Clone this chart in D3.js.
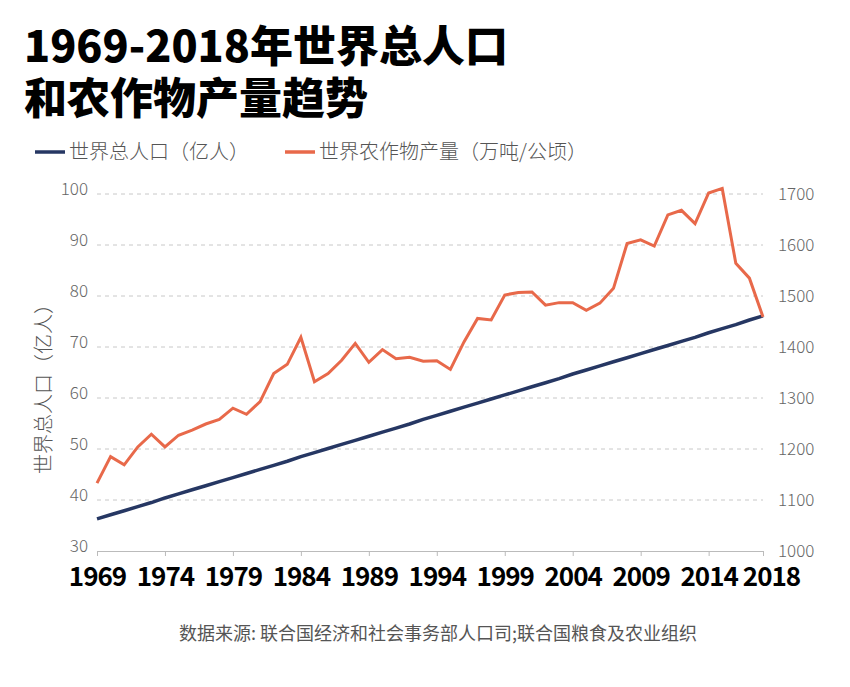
<!DOCTYPE html>
<html>
<head>
<meta charset="utf-8">
<script src="https://cdn.jsdelivr.net/npm/d3@7"></script>
<style>
  html, body { margin: 0; padding: 0; background: #fff; }
  svg { display: block; font-family: "Noto Sans CJK SC", "Noto Sans", sans-serif; }
</style>
</head>
<body>
<svg id="chart" width="850" height="687"></svg>
<script>
const years = d3.range(1969, 2019);
const xTickYears = [1969, 1974, 1979, 1984, 1989, 1994, 1999, 2004, 2009, 2014, 2018];
const leftTicks = [30, 40, 50, 60, 70, 80, 90, 100];
const rightTicks = [1000, 1100, 1200, 1300, 1400, 1500, 1600, 1700];

// 世界总人口 (亿人)
const population = [
  36.3, 37.1, 37.9, 38.7, 39.5, 40.4, 41.2, 42.0, 42.8, 43.6,
  44.4, 45.2, 46.0, 46.8, 47.6, 48.5, 49.3, 50.1, 50.9, 51.7,
  52.5, 53.3, 54.1, 54.9, 55.8, 56.6, 57.4, 58.2, 59.0, 59.8,
  60.6, 61.4, 62.2, 63.0, 63.8, 64.7, 65.5, 66.3, 67.1, 67.9,
  68.7, 69.5, 70.3, 71.1, 71.9, 72.8, 73.6, 74.4, 75.3, 76.1
];
// 世界农作物产量 (万吨/公顷)
const cropYield = [
  1133, 1185, 1169, 1204, 1229, 1204, 1227, 1237, 1249, 1258,
  1280, 1268, 1293, 1348, 1366, 1419, 1332, 1348, 1374, 1407,
  1370, 1395, 1377, 1380, 1372, 1373, 1356, 1410, 1456, 1453,
  1502, 1507, 1508, 1482, 1487, 1487, 1472, 1486, 1515, 1603,
  1610, 1598, 1659, 1668, 1642, 1702, 1711, 1564, 1535, 1459
];

const svg = d3.select("#chart");

const x = d3.scaleLinear().domain([1969, 2018]).range([97, 763]);
const yL = d3.scaleLinear().domain([30, 100]).range([551, 194]);
const yR = d3.scaleLinear().domain([1000, 1700]).range([551, 194]);

// Title
svg.append("text")
  .attr("x", 24).attr("y", 62)
  .attr("font-size", 43).attr("font-weight", 900).attr("fill", "#000")
  .text("1969-2018年世界总人口");
svg.append("text")
  .attr("x", 24).attr("y", 114)
  .attr("font-size", 43).attr("font-weight", 900).attr("fill", "#000")
  .text("和农作物产量趋势");

// Legend
const legend = [
  {label: "世界总人口（亿人）", color: "#263763", x0: 35},
  {label: "世界农作物产量（万吨/公顷）", color: "#E8694A", x0: 285}
];
legend.forEach(d => {
  svg.append("line")
    .attr("x1", d.x0).attr("x2", d.x0 + 30)
    .attr("y1", 152).attr("y2", 152)
    .attr("stroke", d.color).attr("stroke-width", 3.5);
  svg.append("text")
    .attr("x", d.x0 + 34).attr("y", 159)
    .attr("font-size", 20).attr("font-weight", 300).attr("fill", "#555")
    .text(d.label);
});

// Gridlines
svg.append("g").selectAll("line")
  .data(leftTicks.slice(1))
  .join("line")
  .attr("x1", 97).attr("x2", 763)
  .attr("y1", d => yL(d)).attr("y2", d => yL(d))
  .attr("stroke", "#c8c8c8").attr("stroke-width", 1)
  .attr("stroke-dasharray", "4,4");

// Left axis labels
const leftAxis = d3.axisLeft(yL).tickValues(leftTicks).tickSize(0).tickPadding(0);
const gL = svg.append("g").attr("transform", "translate(88,-5)").call(leftAxis);
gL.select(".domain").remove();
gL.selectAll("text")
  .attr("font-size", 17).attr("font-family", "'Noto Sans CJK SC', sans-serif")
  .attr("font-weight", 300).attr("fill", "#666");

// Right axis labels
const rightAxis = d3.axisRight(yR).tickValues(rightTicks).tickFormat(d3.format("d"))
  .tickSize(0).tickPadding(0);
const gR = svg.append("g").attr("transform", "translate(778,0)").call(rightAxis);
gR.select(".domain").remove();
gR.selectAll("text")
  .attr("font-size", 17).attr("font-family", "'Noto Sans CJK SC', sans-serif")
  .attr("font-weight", 300).attr("fill", "#666");

// Bottom axis
const bottomAxis = d3.axisBottom(x).tickValues(xTickYears).tickFormat(d3.format("d"))
  .tickSize(5).tickSizeOuter(0).tickPadding(5);
const gB = svg.append("g").attr("transform", "translate(0,551)").call(bottomAxis);
gB.select(".domain").attr("stroke", "#bbb");
gB.selectAll(".tick line").attr("stroke", "#bbb");
gB.selectAll("text")
  .attr("font-size", 26).attr("font-weight", 700)
  .attr("font-family", "'Noto Sans CJK SC', sans-serif")
  .attr("letter-spacing", "-1px")
  .attr("fill", "#000").attr("dy", "0.95em")
  .attr("x", d => d === 2018 ? 8 : 0);

// Left axis title
svg.append("text")
  .attr("transform", "translate(51,384) rotate(-90)")
  .attr("text-anchor", "middle")
  .attr("font-size", 20).attr("font-weight", 300).attr("fill", "#555")
  .text("世界总人口（亿人）");

// Lines
const popLine = d3.line().x((d, i) => x(years[i])).y(d => yL(d));
const cropLine = d3.line().x((d, i) => x(years[i])).y(d => yR(d));

svg.append("path").datum(population)
  .attr("d", popLine).attr("fill", "none")
  .attr("stroke", "#263763").attr("stroke-width", 3.5)
  .attr("stroke-linejoin", "round");

svg.append("path").datum(cropYield)
  .attr("d", cropLine).attr("fill", "none")
  .attr("stroke", "#E8694A").attr("stroke-width", 3)
  .attr("stroke-linejoin", "miter");

// Source
svg.append("text")
  .attr("x", 438).attr("y", 640)
  .attr("text-anchor", "middle")
  .attr("font-size", 18).attr("font-weight", 400).attr("fill", "#555")
  .text("数据来源: 联合国经济和社会事务部人口司;联合国粮食及农业组织");
</script>
</body>
</html>
